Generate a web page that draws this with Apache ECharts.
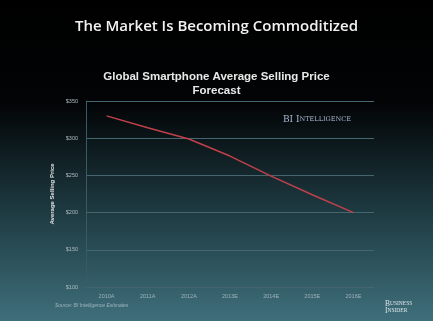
<!DOCTYPE html>
<html>
<head>
<meta charset="utf-8">
<script src="https://cdn.jsdelivr.net/npm/echarts@6/dist/echarts.min.js"></script>
<style>
  html, body { margin: 0; padding: 0; }
  #chart { width: 433px; height: 321px; }
</style>
</head>
<body>
<div id="chart"></div>
<script>
// categories and ASP values (USD)
const years = ['2010A', '2011A', '2012A', '2013E', '2014E', '2015E', '2016E'];
const asp = [330, 314, 299, 276, 249, 224, 200];
const priceTicks = [100, 150, 200, 250, 300, 350];

const chart = echarts.init(document.getElementById('chart'));

const option = {
  backgroundColor: {
    type: 'linear', x: 0, y: 0, x2: 0, y2: 1,
    colorStops: [
      { offset: 0, color: '#000000' },
      { offset: 0.32, color: '#020405' },
      { offset: 0.65, color: '#1d3940' },
      { offset: 1, color: '#3f6f7b' }
    ]
  },
  title: [
    {
      text: 'The Market Is Becoming Commoditized',
      left: 'center', top: 14,
      textStyle: { color: '#f2f2f2', fontSize: 15, fontWeight: 600, fontFamily: 'Open Sans' }
    },
    {
      text: 'Global Smartphone Average Selling Price\nForecast',
      left: 'center', top: 65,
      textStyle: { color: '#e8e8e8', fontSize: 11.5, fontWeight: 'bold', fontFamily: 'Liberation Sans', lineHeight: 14 }
    }
  ],
  graphic: [
    {
      type: 'text', left: 283, top: 115,
      style: {
        text: '{a|BI I}{b|NTELLIGENCE}',
        rich: {
          a: { fill: '#aab6d2', font: '9px "DejaVu Serif"' },
          b: { fill: '#aab6d2', font: '6.5px "DejaVu Serif"' }
        }
      }
    },
    {
      type: 'text', left: 55, top: 303,
      style: { text: 'Source: BI Intelligence Estimates', fill: '#9fb6be', font: 'italic 5px "Liberation Sans"' }
    },
    {
      type: 'text', left: 385, top: 300,
      style: {
        text: '{a|B}{b|USINESS}\n{a|I}{b|NSIDER}',
        rich: {
          a: { fill: '#dde6ea', font: '7.5px "Liberation Serif"', lineHeight: 7 },
          b: { fill: '#dde6ea', font: '5.5px "Liberation Serif"', lineHeight: 7 }
        }
      }
    }
  ],
  grid: { left: 86, right: 59, top: 101, bottom: 34 },
  xAxis: {
    type: 'category',
    data: years,
    boundaryGap: true,
    axisLine: { show: false },
    axisTick: { show: false },
    axisLabel: { color: '#9fb3ba', fontSize: 5.5, fontFamily: 'Liberation Sans', margin: 6 }
  },
  yAxis: {
    type: 'value',
    min: priceTicks[0],
    max: priceTicks[priceTicks.length - 1],
    interval: 50,
    name: 'Average Selling Price',
    nameLocation: 'middle',
    nameGap: 21,
    nameTextStyle: { color: '#e0e0e0', fontSize: 6, fontWeight: 'bold', fontFamily: 'Liberation Sans' },
    axisLine: { show: true, lineStyle: { color: '#3c5a62', width: 1 } },
    axisTick: { show: false },
    axisLabel: { color: '#b0bcc0', fontSize: 5.5, fontFamily: 'Liberation Sans', margin: 8, formatter: '${value}' },
    splitLine: { lineStyle: { color: '#456670', width: 1 } }
  },
  series: [{
    type: 'line',
    data: asp,
    symbol: 'none',
    lineStyle: { color: '#c0404a', width: 1.5 }
  }]
};

chart.setOption(option);
</script>
</body>
</html>
